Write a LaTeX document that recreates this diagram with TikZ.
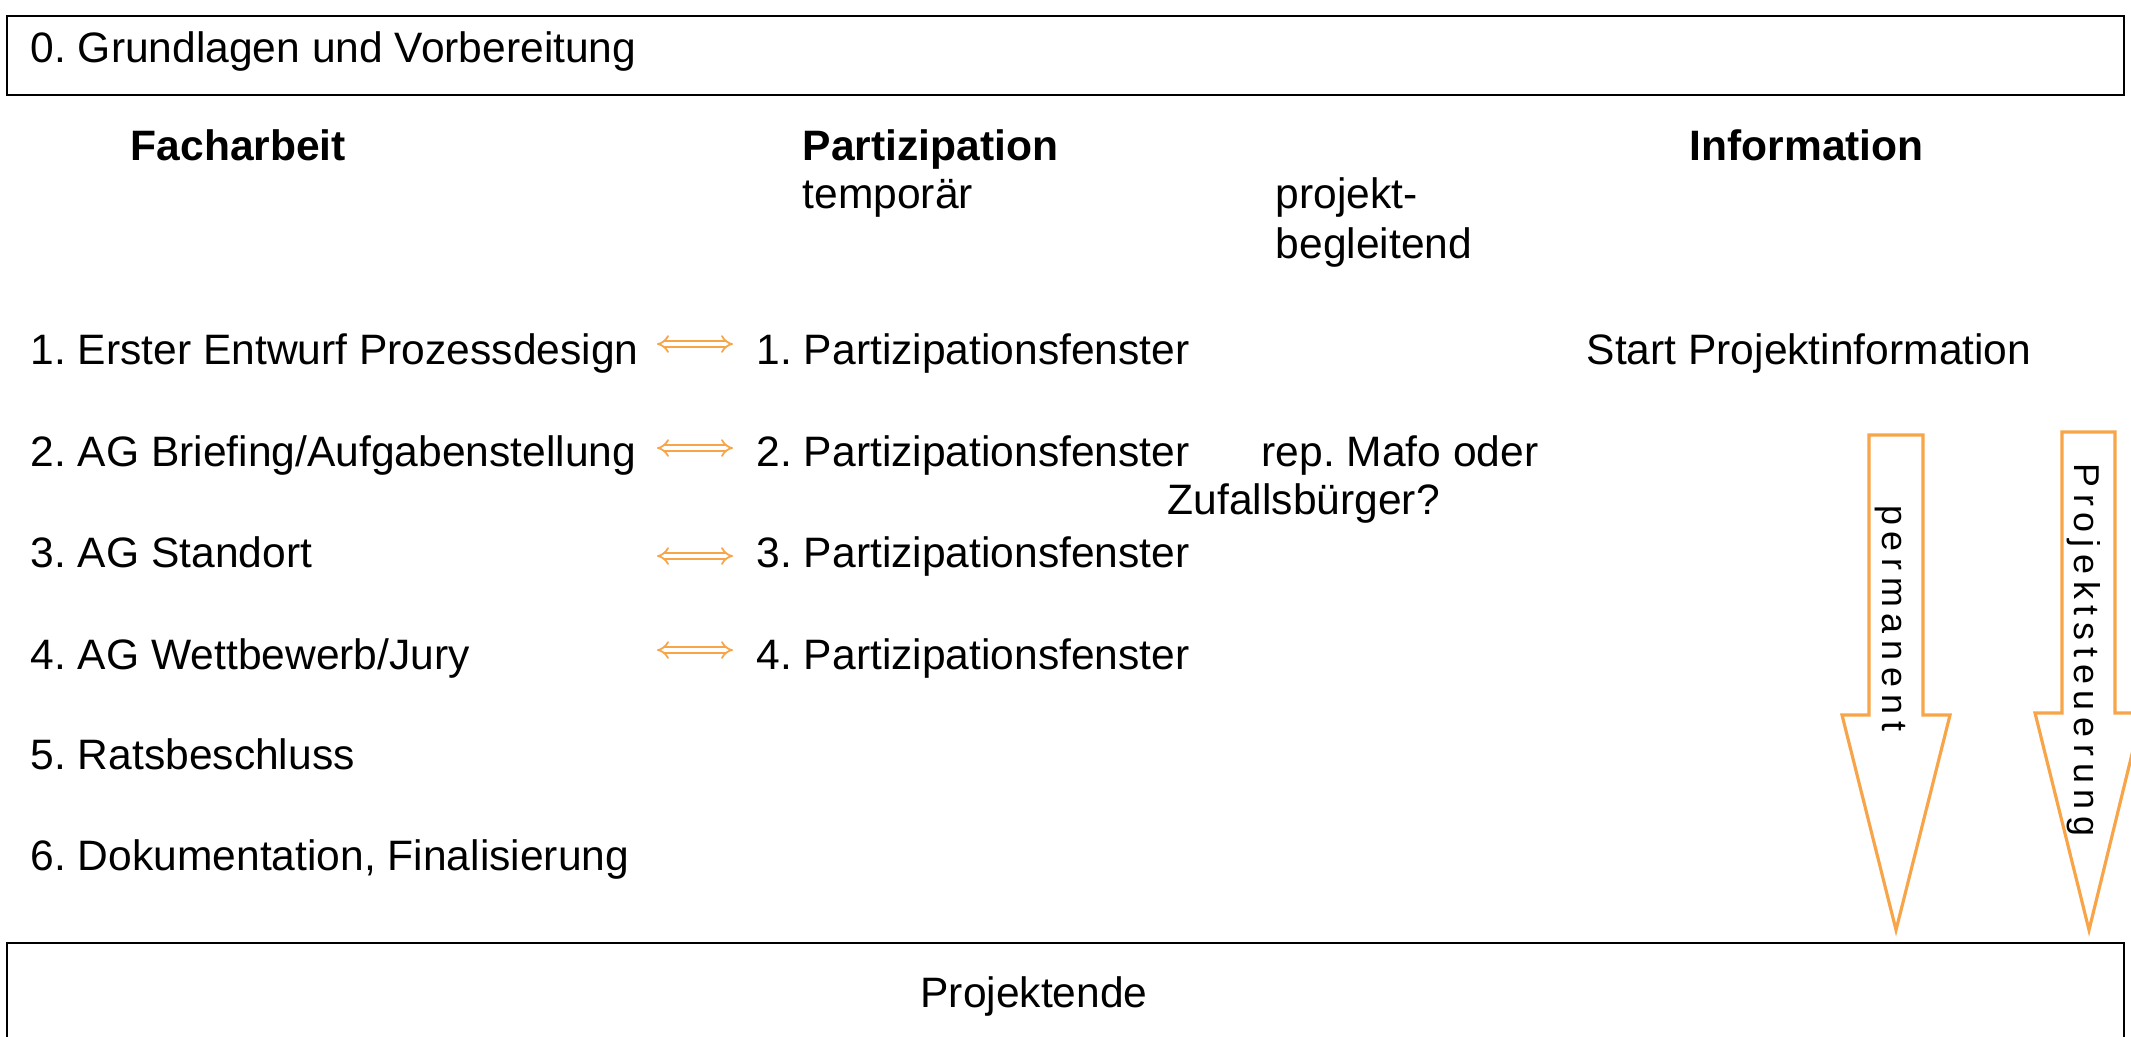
\documentclass[tikz,border=0pt]{standalone}
\usepackage{fontspec}
\setmainfont{Liberation Sans}
\newfontfamily\spacedfont[LetterSpace=19]{Liberation Sans}
\usetikzlibrary{arrows.meta,positioning}
\definecolor{arroworange}{RGB}{247,165,72}
\tikzset{
  item/.style = {anchor = base west, inner sep = 0pt, font = \fontsize{12.1}{14.2}\selectfont},
  colhead/.style = {item, font = \fontsize{12.1}{14.2}\selectfont\bfseries},
  frame/.style = {draw = black, line width = 0.6pt},
  linkarrow/.style = {draw = arroworange, double = white, double distance = 1.2pt,
                      line width = 0.5pt, {Implies}-{Implies}},
  bigarrow/.style = {draw = arroworange, line width = 0.9pt, fill = white, line join = miter},
  arrowtext/.style = {rotate = -90, inner sep = 0pt, font = \spacedfont\fontsize{10.2}{12}\selectfont}
}
\frenchspacing
\begin{document}
\begin{tikzpicture}[x = 0.01cm, y = -0.01cm]
\useasboundingbox (0, 0) rectangle (2131, 1036);
\clip (0, 0) rectangle (2131, 1036);
\fill[white] (0, 0) rectangle (2131, 1036);
% frames top and bottom
\draw[frame] (7, 16) rectangle (2124, 95);
\draw[frame] (7, 943) rectangle (2124, 1050);
\node[item] (grund) at (30, 62) {0. Grundlagen und Vorbereitung};
\node[item, anchor = base] (ende) at (1034, 1007) {Projektende};
% column heads
\node[colhead] (fach) at (130, 160) {Facharbeit};
\node[colhead] (part) at (802, 160) {Partizipation};
\node[colhead] (info) at (1689, 160) {Information};
\node[item] (temp) at (802, 208) {temporär};
\node[item, align = left] (projbeg) at (1275, 258) {projekt-\\begleitend};
% Facharbeit
\node[item] (f1) at (30, 364) {1. Erster Entwurf Prozessdesign};
\node[item] (f2) at (30, 466) {2. AG Briefing/Aufgabenstellung};
\node[item] (f3) at (30, 567) {3. AG Standort};
\node[item] (f4) at (30, 669) {4. AG Wettbewerb/Jury};
\node[item] (f5) at (30, 769) {5. Ratsbeschluss};
\node[item] (f6) at (30, 870) {6. Dokumentation, Finalisierung};
% Partizipation
\node[item] (p1) at (756, 364) {1. Partizipationsfenster};
\node[item] (p2) at (756, 466) {2. Partizipationsfenster};
\node[item] (p3) at (756, 567) {3. Partizipationsfenster};
\node[item] (p4) at (756, 669) {4. Partizipationsfenster};
\node[item] (mafo) at (1261, 466) {rep. Mafo oder};
\node[item] (zufall) at (1167, 514) {Zufallsbürger?};
% Information
\node[item] (start) at (1586, 364) {Start Projektinformation};
% links
\coordinate (l1) at (657, 344);
\coordinate (l2) at (657, 448);
\coordinate (l3) at (657, 556);
\coordinate (l4) at (657, 650);
\draw[linkarrow, shorten >= 0.23cm] (l1) -- (l1 -| p1.west);
\draw[linkarrow, shorten >= 0.23cm] (l2) -- (l2 -| p2.west);
\draw[linkarrow, shorten >= 0.23cm] (l3) -- (l3 -| p3.west);
\draw[linkarrow, shorten >= 0.23cm] (l4) -- (l4 -| p4.west);
% big arrows
\draw[bigarrow] (1869, 435) -- (1923, 435) -- (1923, 715) -- (1950, 715)
  -- (1896, 930) -- (1842, 715) -- (1869, 715) -- cycle;
\draw[bigarrow] (2062, 432) -- (2115, 432) -- (2115, 713) -- (2142, 713)
  -- (2089, 930) -- (2035, 713) -- (2062, 713) -- cycle;
\node[arrowtext] (perm) at (1890, 618) {permanent};
\node[arrowtext] (steuer) at (2084, 650) {Projektsteuerung};
\end{tikzpicture}
\end{document}
